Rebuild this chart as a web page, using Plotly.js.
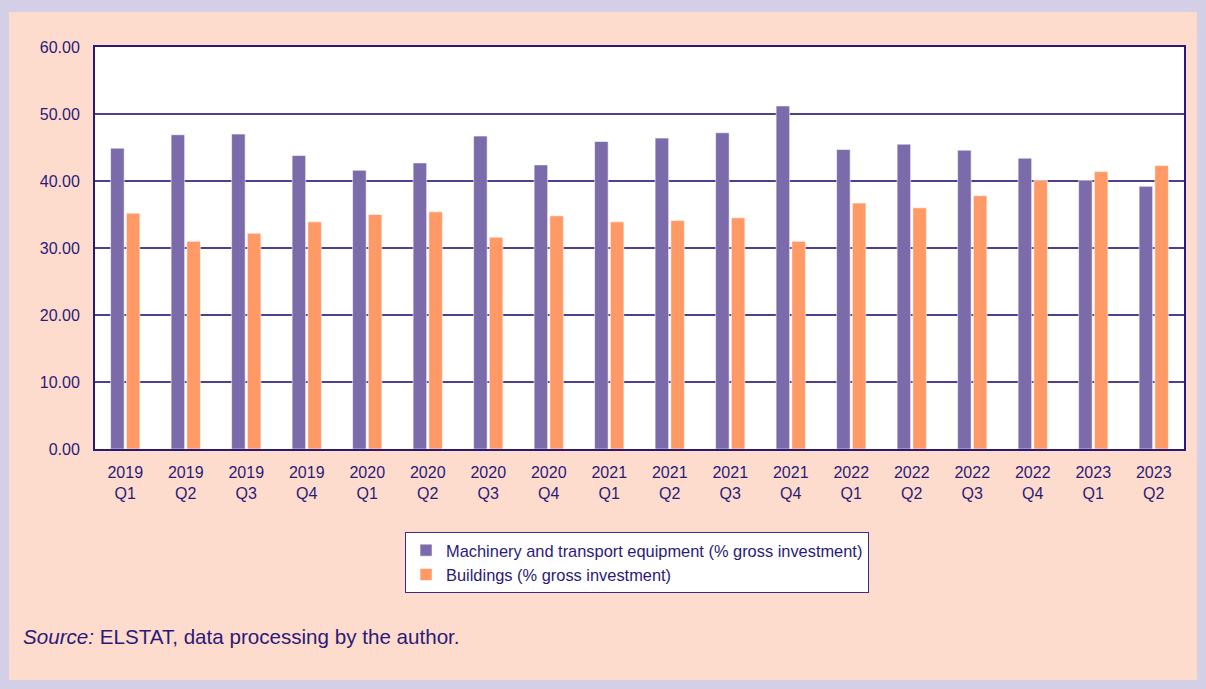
<!DOCTYPE html>
<html>
<head>
<meta charset="utf-8">
<script src="https://cdn.plot.ly/plotly-3.0.1.min.js"></script>
<style>
  html, body { margin: 0; padding: 0; background: #d3cfe6; width: 1206px; height: 689px; overflow: hidden; }
  #chart { position: absolute; left: 9px; top: 12px; width: 1188px; height: 668px; }
</style>
</head>
<body>
<div id="chart"></div>
<script>
const categories = ["2019<br>Q1","2019<br>Q2","2019<br>Q3","2019<br>Q4",
  "2020<br>Q1","2020<br>Q2","2020<br>Q3","2020<br>Q4",
  "2021<br>Q1","2021<br>Q2","2021<br>Q3","2021<br>Q4",
  "2022<br>Q1","2022<br>Q2","2022<br>Q3","2022<br>Q4",
  "2023<br>Q1","2023<br>Q2"];
const machinery = [44.9, 46.9, 47.0, 43.8, 41.6, 42.7, 46.7, 42.4, 45.9, 46.4, 47.2, 51.2, 44.7, 45.5, 44.6, 43.4, 40.1, 39.2];
const buildings = [35.2, 31.0, 32.2, 33.9, 35.0, 35.4, 31.6, 34.8, 33.9, 34.1, 34.5, 31.0, 36.7, 36.0, 37.8, 40.1, 41.4, 42.3];
const seriesNames = ["Machinery and transport equipment (% gross investment)", "Buildings (% gross investment)"];
const yTicks = [0, 10, 20, 30, 40, 50, 60];

const textColor = "#2b1a78";
const font = "Liberation Sans, Arial, sans-serif";

const traces = [
  { type: "bar", x: categories, y: machinery, name: seriesNames[0],
    marker: { color: "#7b6baa", line: { color: "rgba(255,255,255,0.55)", width: 1 } } },
  { type: "bar", x: categories, y: buildings, name: seriesNames[1],
    marker: { color: "#ff9966", line: { color: "rgba(255,255,255,0.55)", width: 1 } } }
];

const layout = {
  width: 1188, height: 668,
  paper_bgcolor: "#fedccd",
  plot_bgcolor: "#ffffff",
  margin: { l: 86, r: 13, t: 35, b: 231 },
  barmode: "group",
  bargap: 0.48,
  bargroupgap: 0.14,
  font: { family: font, size: 16, color: textColor },
  xaxis: {
    type: "category",
    showline: true, mirror: true, linecolor: "#2a1a78", linewidth: 2,
    ticks: "", showgrid: false,
    tickfont: { family: font, size: 16, color: textColor },
    ticklabelstandoff: 8
  },
  yaxis: {
    range: [0, 60],
    tickvals: yTicks,
    tickformat: ".2f",
    showline: true, mirror: true, linecolor: "#2a1a78", linewidth: 2,
    showgrid: true, gridcolor: "#4f3f92", gridwidth: 1.5,
    zeroline: false,
    ticks: "",
    ticklabelstandoff: 10,
    tickfont: { family: font, size: 16, color: textColor }
  },
  showlegend: true,
  legend: {
    x: 0.2847, xanchor: "left",
    y: -0.2065, yanchor: "top",
    bgcolor: "#ffffff",
    bordercolor: "#3a2a8a", borderwidth: 1,
    font: { family: font, size: 16.4, color: textColor },
    tracegroupgap: 0
  },
  annotations: [{
    xref: "paper", yref: "paper",
    x: -0.0675, xanchor: "left",
    y: -0.467, yanchor: "middle",
    showarrow: false,
    text: "<i>Source:</i> ELSTAT, data processing by the author.",
    font: { family: font, size: 20.6, color: textColor }
  }]
};

Plotly.newPlot("chart", traces, layout, { displayModeBar: false, staticPlot: true });
</script>
</body>
</html>
